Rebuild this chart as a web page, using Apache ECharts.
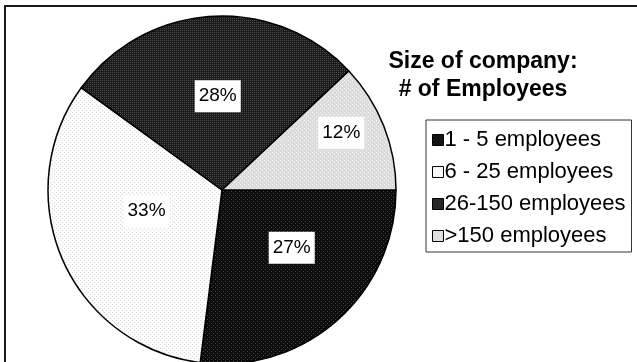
<!DOCTYPE html>
<html>
<head>
<meta charset="utf-8">
<script src="https://cdn.jsdelivr.net/npm/echarts@6/dist/echarts.min.js"></script>
<style>
  html, body { margin: 0; padding: 0; background: #fff; }
  #chart { width: 637px; height: 362px; }
</style>
</head>
<body>
<div id="chart"></div>
<script>
// Company size categories and their share of respondents (%)
const categories = ['1 - 5 employees', '6 - 25 employees', '26-150 employees', '>150 employees'];
const shares = [27, 33, 28, 12];
const titleLines = ['Size of company:', '# of Employees'];

// Small halftone-like fills, one per slice
function dotPattern(base, dot, cells) {
  const c = document.createElement('canvas');
  c.width = 4; c.height = 4;
  const g = c.getContext('2d');
  g.fillStyle = base; g.fillRect(0, 0, 4, 4);
  g.fillStyle = dot;
  cells.forEach(function (p) { g.fillRect(p[0], p[1], 1, 1); });
  return { image: c, repeat: 'repeat' };
}
const fills = [
  dotPattern('#0c0c0c', '#484848', [[1, 1], [3, 3]]),
  dotPattern('#fdfdfd', '#d8d8d8', [[0, 0], [2, 2]]),
  dotPattern('#1a1a1a', '#4e4e4e', [[0, 0], [2, 0], [0, 2], [2, 2]]),
  dotPattern('#dcdcdc', '#f6f6f6', [[0, 0], [2, 2]])
];

// Placement of each value label: fraction of the radius, and a small turn (degrees) off the slice middle
const labelReach = [0.52, 0.45, 0.54, 0.76];
const labelTurn = [-9, 8, 1, -4];

const center = [222, 190];
const radius = 174;
const total = shares.reduce(function (a, b) { return a + b; }, 0);

function labelPoint(i) {
  let before = 0;
  for (let k = 0; k < i; k++) before += shares[k];
  const mid = (before + shares[i] / 2) / total * 2 * Math.PI + labelTurn[i] * Math.PI / 180;
  const r = radius * labelReach[i];
  return [center[0] + r * Math.cos(mid), center[1] + r * Math.sin(mid)];
}

const fontFamily = 'Liberation Sans, Arial, sans-serif';

const chart = echarts.init(document.getElementById('chart'), null, { renderer: 'canvas' });
chart.setOption({
  animation: false,
  backgroundColor: '#fff',
  title: {
    text: titleLines.join('\n'),
    left: 478,
    top: 43,
    textAlign: 'center',
    textStyle: {
      fontFamily: fontFamily,
      fontWeight: 'bold',
      fontSize: 23,
      lineHeight: 28,
      color: '#000'
    }
  },
  legend: {
    orient: 'vertical',
    left: 426,
    top: 120,
    padding: [9, 6, 5, 6],
    itemGap: 10,
    itemWidth: 11,
    itemHeight: 11,
    icon: 'rect',
    borderColor: '#333',
    borderWidth: 1,
    backgroundColor: '#fff',
    data: categories,
    itemStyle: { borderColor: '#000', borderWidth: 1 },
    textStyle: {
      fontFamily: fontFamily,
      fontSize: 22,
      color: '#000',
      padding: [0, 0, 0, -4]
    }
  },
  graphic: [{
    type: 'rect',
    shape: { x: 5, y: 6, width: 700, height: 500 },
    style: { fill: 'none', stroke: '#1a1a1a', lineWidth: 2 },
    silent: true
  }],
  series: [{
    type: 'pie',
    center: center,
    radius: radius,
    startAngle: 0,
    clockwise: true,
    avoidLabelOverlap: false,
    emphasis: { disabled: true },
    itemStyle: { borderColor: '#000', borderWidth: 1.5 },
    label: {
      show: true,
      position: 'inside',
      formatter: '{c}%',
      fontFamily: fontFamily,
      fontSize: 19,
      lineHeight: 20,
      color: '#000',
      backgroundColor: '#fff',
      padding: [6, 4]
    },
    labelLine: { show: false },
    labelLayout: function (params) {
      const p = labelPoint(params.dataIndex);
      return { x: p[0], y: p[1], align: 'center', verticalAlign: 'middle' };
    },
    data: categories.map(function (name, i) {
      return { name: name, value: shares[i], itemStyle: { color: fills[i] } };
    })
  }]
});
</script>
</body>
</html>
